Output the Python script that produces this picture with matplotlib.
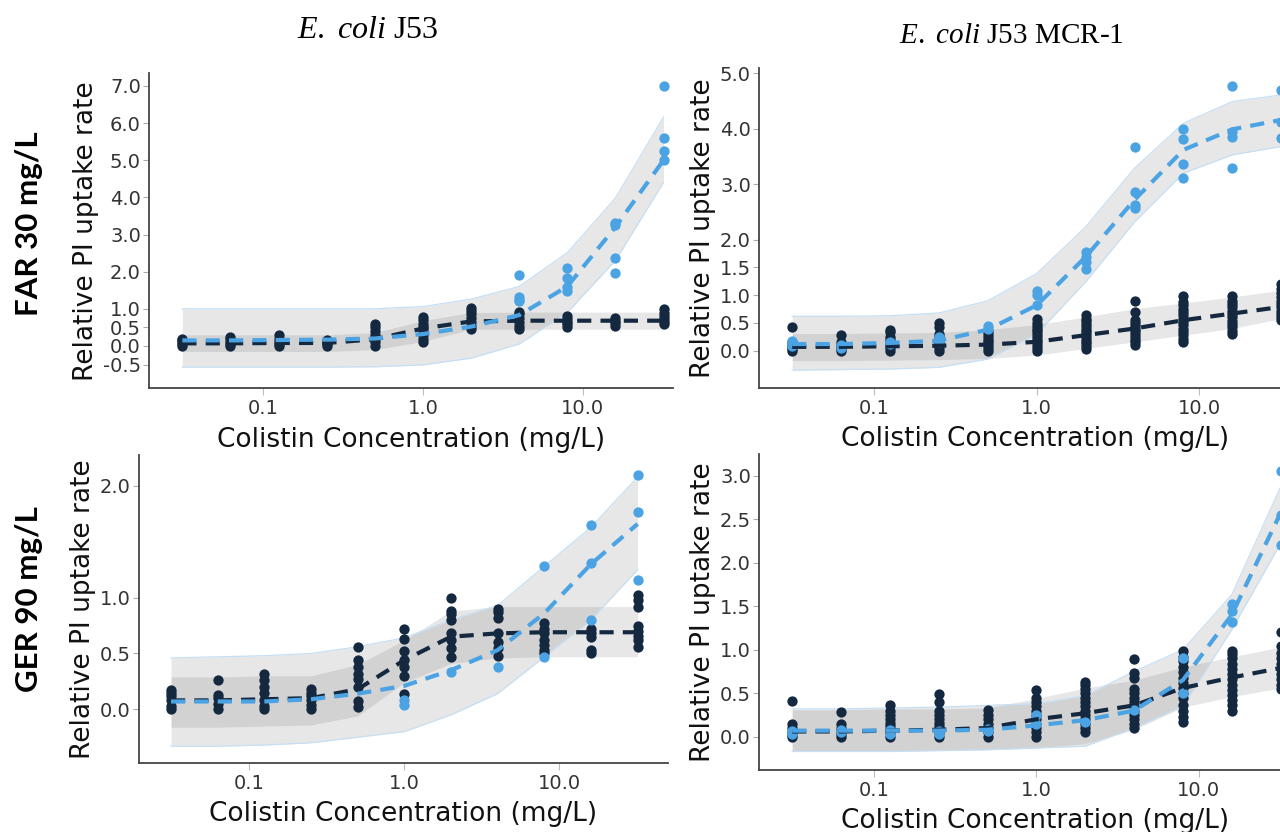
import matplotlib.pyplot as plt

plt.rcParams['font.family'] = 'DejaVu Sans'
plt.rcParams['mathtext.fontset'] = 'custom'
plt.rcParams['mathtext.it'] = 'Liberation Serif:italic'
plt.rcParams['mathtext.rm'] = 'Liberation Serif'

# colistin concentrations (mg/L)
conc = [0.03125, 0.0625, 0.125, 0.25, 0.5, 1, 2, 4, 8, 16, 32]

# ---- FAR 30 mg/L, E. coli J53 ----
tl_dark_pts = [
    [0.0, 0.05, 0.1, 0.15, 0.2],
    [0.0, 0.05, 0.1, 0.18, 0.25],
    [0.0, 0.05, 0.1, 0.2, 0.3],
    [0.0, 0.05, 0.1, 0.15],
    [0.0, 0.1, 0.2, 0.3, 0.4, 0.5, 0.58],
    [0.1, 0.2, 0.3, 0.4, 0.5, 0.6, 0.7, 0.77],
    [0.45, 0.55, 0.65, 0.75, 0.85, 0.95, 1.02],
    [0.45, 0.55, 0.65, 0.75, 0.85, 0.92],
    [0.5, 0.58, 0.65, 0.72, 0.8],
    [0.55, 0.62, 0.68, 0.75],
    [0.58, 0.65, 0.72, 0.8, 0.9, 1.0],
]
tl_dark_mean = [0.07, 0.07, 0.08, 0.08, 0.18, 0.47, 0.66, 0.68, 0.68, 0.68, 0.68]
tl_dark_lo = [-0.15, -0.15, -0.15, -0.15, -0.1, 0.12, 0.45, 0.45, 0.45, 0.45, 0.45]
tl_dark_hi = [0.3, 0.3, 0.3, 0.3, 0.36, 0.68, 0.9, 0.91, 0.91, 0.91, 0.91]
tl_blue_pts = [[], [], [], [], [], [], [], [1.2, 1.25, 1.31, 1.91],
               [1.49, 1.58, 1.84, 2.09], [1.97, 2.37, 3.25, 3.3], [5.01, 5.26, 5.59, 7.0]]
tl_blue_mean = [0.15, 0.15, 0.16, 0.17, 0.2, 0.32, 0.52, 0.83, 1.6, 3.2, 5.0]
tl_blue_lo = [-0.57, -0.57, -0.57, -0.57, -0.56, -0.51, -0.33, 0.05, 0.9, 2.3, 4.4]
tl_blue_hi = [1.0, 1.0, 1.0, 1.0, 1.0, 1.06, 1.26, 1.6, 2.51, 3.98, 6.16]

# ---- FAR 30 mg/L, E. coli J53 MCR-1 ----
tr_dark_pts = [
    [0.0, 0.03, 0.06, 0.1, 0.15, 0.42],
    [0.0, 0.03, 0.06, 0.1, 0.15, 0.28],
    [0.0, 0.05, 0.1, 0.15, 0.2, 0.25, 0.33, 0.38],
    [0.0, 0.05, 0.1, 0.15, 0.2, 0.25, 0.3, 0.42, 0.5],
    [0.0, 0.05, 0.1, 0.15, 0.2, 0.25, 0.3, 0.35],
    [0.0, 0.05, 0.1, 0.15, 0.2, 0.25, 0.3, 0.35, 0.4, 0.45, 0.5, 0.57],
    [0.03, 0.08, 0.13, 0.18, 0.23, 0.28, 0.33, 0.38, 0.43, 0.48, 0.53, 0.58, 0.65],
    [0.1, 0.15, 0.2, 0.25, 0.3, 0.35, 0.4, 0.45, 0.5, 0.55, 0.7, 0.9],
    [0.16, 0.22, 0.28, 0.34, 0.4, 0.46, 0.52, 0.58, 0.64, 0.7, 0.76, 0.82, 0.88, 0.99],
    [0.3, 0.36, 0.42, 0.48, 0.54, 0.6, 0.66, 0.72, 0.78, 0.84, 0.9, 0.98],
    [0.55, 0.6, 0.66, 0.72, 0.78, 0.84, 0.9, 0.96, 1.04, 1.12, 1.2],
]
tr_dark_mean = [0.07, 0.07, 0.08, 0.09, 0.11, 0.16, 0.28, 0.4, 0.55, 0.67, 0.79]
tr_dark_lo = [-0.18, -0.18, -0.17, -0.16, -0.14, -0.08, 0.04, 0.16, 0.28, 0.4, 0.58]
tr_dark_hi = [0.31, 0.31, 0.32, 0.33, 0.38, 0.47, 0.61, 0.76, 0.86, 0.97, 1.09]
tr_blue_pts = [[0.08, 0.12, 0.18], [0.05, 0.1], [0.12, 0.15], [0.15, 0.2, 0.25], [0.39, 0.45],
               [0.82, 1.0, 1.08], [1.47, 1.6, 1.69, 1.78], [2.57, 2.63, 2.86, 3.68],
               [3.11, 3.36, 3.81, 3.99], [3.29, 3.86, 3.95, 4.77], [3.83, 4.13, 4.7]]
tr_blue_mean = [0.12, 0.12, 0.14, 0.18, 0.38, 0.82, 1.69, 2.72, 3.62, 3.99, 4.16]
tr_blue_lo = [-0.35, -0.34, -0.33, -0.3, -0.15, 0.3, 1.24, 2.32, 3.2, 3.53, 3.68]
tr_blue_hi = [0.62, 0.62, 0.63, 0.68, 0.9, 1.39, 2.23, 3.29, 4.1, 4.49, 4.61]

# ---- GER 90 mg/L, E. coli J53 ----
bl_dark_pts = [
    [0.0, 0.03, 0.08, 0.12, 0.15, 0.17],
    [0.0, 0.05, 0.1, 0.13, 0.26],
    [0.0, 0.03, 0.08, 0.15, 0.2, 0.26, 0.32],
    [0.0, 0.04, 0.08, 0.12, 0.15, 0.18],
    [0.02, 0.07, 0.2, 0.27, 0.32, 0.38, 0.44, 0.56],
    [0.14, 0.3, 0.38, 0.44, 0.52, 0.63, 0.72],
    [0.47, 0.55, 0.62, 0.68, 0.8, 0.85, 0.88, 1.0],
    [0.48, 0.55, 0.6, 0.68, 0.82, 0.87, 0.9],
    [0.5, 0.53, 0.58, 0.62, 0.68, 0.72, 0.77],
    [0.5, 0.53, 0.65, 0.68, 0.72],
    [0.56, 0.62, 0.66, 0.7, 0.75, 0.92, 0.98, 1.02],
]
bl_dark_mean = [0.08, 0.08, 0.09, 0.1, 0.18, 0.44, 0.65, 0.68, 0.69, 0.69, 0.69]
bl_dark_lo = [-0.16, -0.16, -0.15, -0.14, -0.06, 0.24, 0.41, 0.46, 0.47, 0.47, 0.47]
bl_dark_hi = [0.29, 0.29, 0.3, 0.3, 0.4, 0.62, 0.88, 0.92, 0.92, 0.92, 0.92]
bl_blue_pts = [[], [], [], [], [], [0.04, 0.08], [0.33], [0.38],
               [0.47, 1.28], [0.8, 1.31, 1.65], [1.16, 1.77, 2.1]]
bl_blue_mean = [0.07, 0.07, 0.07, 0.09, 0.14, 0.21, 0.35, 0.53, 0.86, 1.3, 1.66]
bl_blue_lo = [-0.33, -0.33, -0.32, -0.3, -0.25, -0.2, -0.05, 0.14, 0.47, 0.8, 1.25]
bl_blue_hi = [0.46, 0.47, 0.48, 0.5, 0.56, 0.64, 0.8, 0.93, 1.28, 1.63, 2.08]

# ---- GER 90 mg/L, E. coli J53 MCR-1 ----
br_dark_pts = [
    [0.0, 0.02, 0.05, 0.1, 0.15, 0.41],
    [0.0, 0.03, 0.06, 0.1, 0.15, 0.28],
    [0.0, 0.04, 0.08, 0.12, 0.16, 0.2, 0.25, 0.3, 0.36],
    [0.0, 0.04, 0.08, 0.12, 0.16, 0.2, 0.25, 0.3, 0.4, 0.49],
    [0.0, 0.05, 0.1, 0.15, 0.2, 0.25, 0.31],
    [0.0, 0.05, 0.1, 0.15, 0.2, 0.25, 0.3, 0.35, 0.4, 0.45, 0.54],
    [0.05, 0.1, 0.15, 0.2, 0.25, 0.3, 0.35, 0.4, 0.45, 0.5, 0.55, 0.6, 0.63],
    [0.1, 0.15, 0.2, 0.25, 0.3, 0.35, 0.4, 0.45, 0.5, 0.55, 0.68, 0.73, 0.89],
    [0.17, 0.23, 0.3, 0.37, 0.44, 0.5, 0.56, 0.62, 0.68, 0.74, 0.8, 0.87, 0.92, 0.99],
    [0.3, 0.36, 0.42, 0.48, 0.54, 0.6, 0.66, 0.72, 0.78, 0.84, 0.9, 0.95, 0.99],
    [0.55, 0.6, 0.66, 0.72, 0.78, 0.84, 0.9, 0.96, 1.04, 1.2],
]
br_dark_mean = [0.06, 0.06, 0.07, 0.08, 0.1, 0.2, 0.27, 0.36, 0.56, 0.68, 0.79]
br_dark_lo = [-0.17, -0.17, -0.16, -0.16, -0.15, -0.13, -0.08, 0.08, 0.34, 0.46, 0.56]
br_dark_hi = [0.31, 0.31, 0.32, 0.32, 0.33, 0.44, 0.56, 0.65, 0.8, 0.92, 1.03]
br_blue_pts = [[0.03, 0.07], [0.05, 0.08], [0.03, 0.08], [0.03, 0.07], [0.06, 0.09],
               [0.15, 0.25], [0.17], [0.31], [0.5, 0.9], [1.32, 1.44, 1.53], [2.2, 2.55, 3.06]]
br_blue_mean = [0.07, 0.07, 0.07, 0.07, 0.08, 0.13, 0.19, 0.3, 0.65, 1.4, 2.57]
br_blue_lo = [-0.17, -0.17, -0.17, -0.16, -0.15, -0.13, -0.11, 0.1, 0.35, 1.23, 2.22]
br_blue_hi = [0.32, 0.32, 0.33, 0.34, 0.36, 0.38, 0.47, 0.75, 1.0, 1.63, 2.87]

blue = '#4ba3e3'
navy = '#14293f'
band = '#444444'


def panel(ax, dark_pts, dark_mean, dark_lo, dark_hi,
          blue_pts, blue_mean, blue_lo, blue_hi, yticks, ylim, xlim):
    ax.fill_between(conc, blue_lo, blue_hi, color=band, alpha=0.125, lw=0)
    ax.plot(conc, blue_lo, color='#c6dff4', lw=0.9)
    ax.plot(conc, blue_hi, color='#c6dff4', lw=0.9)
    ax.fill_between(conc, dark_lo, dark_hi, color=band, alpha=0.125, lw=0)
    for c, vals in zip(conc, dark_pts):
        ax.scatter([c] * len(vals), vals, s=55, color=navy, lw=0, zorder=3)
    for c, vals in zip(conc, blue_pts):
        ax.scatter([c] * len(vals), vals, s=55, color=blue, lw=0, zorder=4)
    ax.plot(conc, dark_mean, color=navy, lw=3, dashes=(3.4, 2.2), zorder=5)
    ax.plot(conc, blue_mean, color=blue, lw=3, dashes=(3.4, 2.2), zorder=6)

    ax.set_xscale('log')
    ax.set_xlim(*xlim)
    ax.set_ylim(*ylim)
    ax.set_xticks([0.1, 1, 10])
    ax.set_xticklabels(['0.1', '1.0', '10.0'])
    ax.minorticks_off()
    ax.set_yticks(yticks)
    ax.set_yticklabels([f'{v:.1f}' for v in yticks])
    for s in ['top', 'right']:
        ax.spines[s].set_visible(False)
    for s in ['left', 'bottom']:
        ax.spines[s].set_color('#444444')
        ax.spines[s].set_linewidth(1.3)
    ax.tick_params(axis='x', length=5, color='#bbbbbb', labelsize=14,
                   labelcolor='#333333', pad=3)
    ax.tick_params(axis='y', length=4, color='#aaaaaa', labelsize=14,
                   labelcolor='#333333', pad=2)
    ax.set_xlabel('Colistin Concentration (mg/L)', fontsize=19, labelpad=6, color='#111111')
    ax.set_ylabel('Relative PI uptake rate', fontsize=19, labelpad=3, color='#111111')


fig = plt.figure(figsize=(12.8, 8.32), dpi=100)
ax_tl = fig.add_axes([0.1166, 0.5333, 0.4089, 0.3786])
ax_tr = fig.add_axes([0.5932, 0.534, 0.4308, 0.3839])
ax_bl = fig.add_axes([0.1088, 0.0833, 0.4128, 0.3698])
ax_br = fig.add_axes([0.5932, 0.0745, 0.4302, 0.3798])

panel(ax_tl, tl_dark_pts, tl_dark_mean, tl_dark_lo, tl_dark_hi,
      tl_blue_pts, tl_blue_mean, tl_blue_lo, tl_blue_hi,
      [-0.5, 0, 0.5, 1, 2, 3, 4, 5, 6, 7], (-1.14, 7.34), (0.0194, 36.5))
panel(ax_tr, tr_dark_pts, tr_dark_mean, tr_dark_lo, tr_dark_hi,
      tr_blue_pts, tr_blue_mean, tr_blue_lo, tr_blue_hi,
      [0, 0.5, 1, 1.5, 2, 3, 4, 5], (-0.667, 5.09), (0.0196, 48.6))
panel(ax_bl, bl_dark_pts, bl_dark_mean, bl_dark_lo, bl_dark_hi,
      bl_blue_pts, bl_blue_mean, bl_blue_lo, bl_blue_hi,
      [0, 0.5, 1, 2], (-0.478, 2.277), (0.0195, 50))
panel(ax_br, br_dark_pts, br_dark_mean, br_dark_lo, br_dark_hi,
      br_blue_pts, br_blue_mean, br_blue_lo, br_blue_hi,
      [0, 0.5, 1, 1.5, 2, 2.5, 3], (-0.383, 3.25), (0.0196, 48.6))

fig.text(0.287, 0.963, r'$\mathit{E.\ coli}$ J53', fontsize=23,
         family='Liberation Serif', ha='center', va='center')
fig.text(0.790, 0.957, r'$\mathit{E.\ coli}$ J53 MCR-1', fontsize=21,
         family='Liberation Serif', ha='center', va='center')
fig.text(0.0227, 0.731, 'FAR 30 mg/L', rotation=90, fontsize=22.5, fontweight='bold',
         family='Lato', ha='center', va='center')
fig.text(0.0227, 0.28, 'GER 90 mg/L', rotation=90, fontsize=22.5, fontweight='bold',
         family='Lato', ha='center', va='center')

fig.savefig('out.png', dpi=100)
